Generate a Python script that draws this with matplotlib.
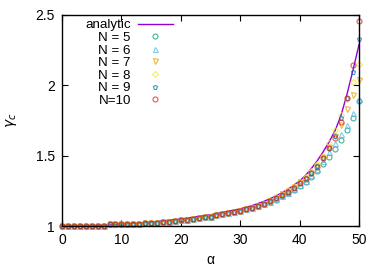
import matplotlib
matplotlib.use("Agg")
import matplotlib.pyplot as plt

plt.rcParams['font.family'] = ['Liberation Sans', 'DejaVu Sans']
plt.rcParams['mathtext.fontset'] = 'dejavusans'

# analytic curve
alpha_analytic = [0, 5, 10, 15, 20, 25, 30, 32, 34, 36, 38, 40, 41, 42, 43, 44,
                  45, 46, 47, 48, 49, 49.5, 50]
gamma_analytic = [1.0, 1.003, 1.013, 1.028, 1.05, 1.08, 1.122, 1.145, 1.175,
                  1.213, 1.26, 1.32, 1.36, 1.41, 1.465, 1.53, 1.60, 1.68, 1.79,
                  1.94, 2.11, 2.20, 2.29]

# numerical points: alpha = 0..50
alpha = list(range(51))
common_low = [1.0] * 8 + [1.012] * 6 + [
    1.02, 1.02, 1.022, 1.028, 1.03, 1.033, 1.04, 1.045, 1.052, 1.057, 1.062,
    1.066, 1.076, 1.083, 1.092, 1.10, 1.109, 1.121, 1.13, 1.142, 1.158]
# alpha = 35..50 for each N
tail_N5 = [1.168, 1.188, 1.21, 1.232, 1.258, 1.285, 1.315, 1.35, 1.39, 1.44,
           1.49, 1.55, 1.611, 1.682, 1.77, 1.889]
tail_N6 = [1.172, 1.193, 1.215, 1.238, 1.264, 1.293, 1.323, 1.36, 1.405, 1.46,
           1.525, 1.588, 1.652, 1.718, 1.80, 1.90]
tail_N7 = [1.178, 1.2, 1.225, 1.25, 1.278, 1.31, 1.343, 1.38, 1.43, 1.49,
           1.56, 1.64, 1.72, 1.83, 1.931, 2.038]
tail_N8 = [1.18, 1.203, 1.228, 1.253, 1.282, 1.315, 1.35, 1.39, 1.44, 1.50,
           1.592, 1.682, 1.79, 1.90, 2.026, 2.15]
tail_N9 = [1.175, 1.197, 1.22, 1.245, 1.273, 1.305, 1.338, 1.376, 1.425, 1.485,
           1.555, 1.64, 1.765, 1.91, 2.097, 2.327]
tail_N10 = [1.175, 1.197, 1.22, 1.245, 1.272, 1.303, 1.336, 1.374, 1.422, 1.481,
            1.552, 1.628, 1.742, 1.908, 2.145, 2.46]

labels = ['N = 5', 'N = 6', 'N = 7', 'N = 8', 'N = 9', 'N=10']
tails = [tail_N5, tail_N6, tail_N7, tail_N8, tail_N9, tail_N10]
colors = ['#009e73', '#56b4e9', '#e69f00', '#f0e442', '#0072b2', '#e51e10']
markers = ['o', '^', 'v', 'D', 'p', 'o']
msizes = [3.6, 3.6, 3.6, 3.0, 3.6, 3.6]

xticks = [0, 10, 20, 30, 40, 50]
yticks = [1, 1.5, 2, 2.5]
ytick_labels = ['1', '1.5', '2', '2.5']

fig = plt.figure(figsize=(3.82, 2.67), dpi=100)
ax = fig.add_axes([62 / 382, 1 - 226 / 267, (359 - 62) / 382, (226 - 15) / 267])

ax.plot(alpha_analytic, gamma_analytic, color='#9400d3', lw=1.0, label='analytic')
for lab, tail, c, m, ms in zip(labels, tails, colors, markers, msizes):
    ax.plot(alpha, common_low + tail, linestyle='none', marker=m, ms=ms,
            mfc='none', mec=c, mew=0.8, alpha=0.75, label=lab, clip_on=False)

ax.set_xlim(0, 50)
ax.set_ylim(1, 2.5)
ax.set_xticks(xticks)
ax.set_yticks(yticks)
ax.set_yticklabels(ytick_labels)
ax.tick_params(direction='in', length=4, width=0.8, top=True, right=True,
               labelsize=10, pad=5, colors='black')
for s in ax.spines.values():
    s.set_linewidth(1.0)
    s.set_color('black')

ax.set_xlabel('α', fontsize=10, labelpad=4)
ax.set_ylabel(r'$\gamma_c$', fontsize=10, labelpad=12)

leg = ax.legend(loc='upper right', bbox_to_anchor=(173 / 382, 1 - 19 / 267),
                bbox_transform=fig.transFigure, frameon=False, markerfirst=False,
                fontsize=9.6, borderpad=0, borderaxespad=0, handlelength=2.63,
                handletextpad=0.53, labelspacing=0.02, numpoints=1)

fig.savefig('out.png', dpi=100)
